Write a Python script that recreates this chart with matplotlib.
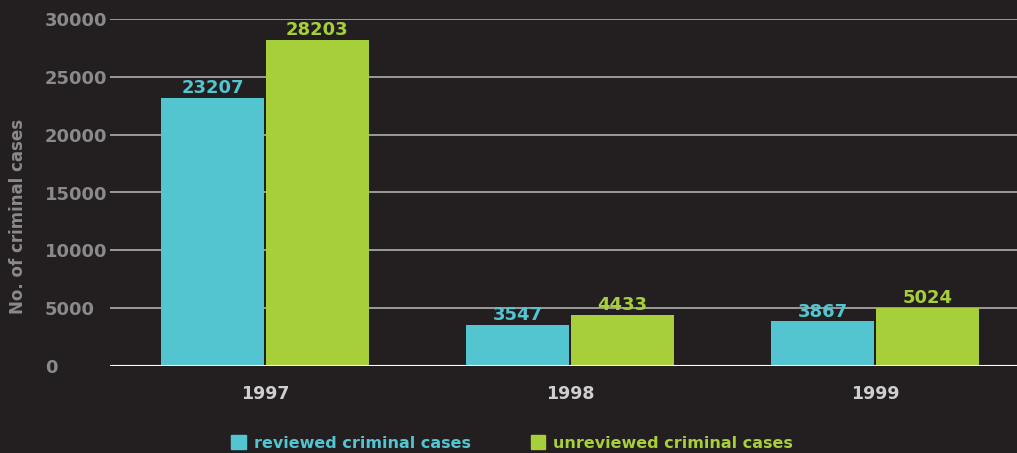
import numpy as np
import matplotlib.pyplot as plt
from matplotlib.patches import Patch

years = ["1997", "1998", "1999"]
reviewed = [23207, 3547, 3867]
unreviewed = [28203, 4433, 5024]
series_names = ["reviewed criminal cases", "unreviewed criminal cases"]

bg = "#231f20"
c_rev = "#52c5d0"
c_unrev = "#a7cf3a"
font = dict(family="DejaVu Sans", weight="bold")

fig = plt.figure(figsize=(10.17, 4.53), dpi=100, facecolor=bg)
ax = fig.add_axes([110 / 1017, 1 - 366 / 453, 1 - 110 / 1017, 347 / 453])
ax.set_facecolor(bg)

x = np.arange(len(years))
w = 0.337
gap = 0.003
b1 = ax.bar(x - w / 2 - gap, reviewed, w, color=c_rev, zorder=3)
b2 = ax.bar(x + w / 2 + gap, unreviewed, w, color=c_unrev, zorder=3)

for bars, vals, col in [(b1, reviewed, c_rev), (b2, unreviewed, c_unrev)]:
    for b, v in zip(bars, vals):
        ax.text(b.get_x() + b.get_width() / 2, v + 50, str(v), ha="center", va="bottom",
                color=col, fontsize=13, zorder=4, **font)

ax.set_ylim(0, 30000)
ax.set_xlim(-0.508, 2.466)
ax.set_yticks(np.arange(0, 30001, 5000))
ax.set_xticks(x)
ax.set_xticklabels(years)
ax.grid(axis="y", color="#a5a5a5", linewidth=1.3, zorder=1)
ax.axhline(0, color="#ffffff", linewidth=1.5, zorder=5)
for s in ax.spines.values():
    s.set_visible(False)
ax.tick_params(length=0)
ax.tick_params(axis="y", pad=47, colors="#8a8a8a")
ax.tick_params(axis="x", pad=14, colors="#cfcfcf")
for lab in ax.get_yticklabels():
    lab.set_fontsize(13)
    lab.set_fontfamily("DejaVu Sans")
    lab.set_fontweight("bold")
    lab.set_horizontalalignment("left")
for lab in ax.get_xticklabels():
    lab.set_fontsize(12.5)
    lab.set_fontfamily("DejaVu Sans")
    lab.set_fontweight("bold")

fig.text(18 / 1017, 1 - 216 / 453, "No. of criminal cases", rotation=90, ha="center", va="center",
         color="#8a8a8a", fontsize=12, **font)

handles = [Patch(color=c_rev), Patch(color=c_unrev)]
leg = fig.legend(handles, series_names, loc="center", bbox_to_anchor=(512 / 1017, 1 - 443 / 453),
                 ncol=2, frameon=False, handlelength=0.9, handleheight=0.9, handletextpad=0.5,
                 columnspacing=3.75, prop=dict(family="DejaVu Sans", weight="bold", size=11.5))
for t, col in zip(leg.get_texts(), [c_rev, c_unrev]):
    t.set_color(col)

fig.savefig("out.png", dpi=100, facecolor=bg)
